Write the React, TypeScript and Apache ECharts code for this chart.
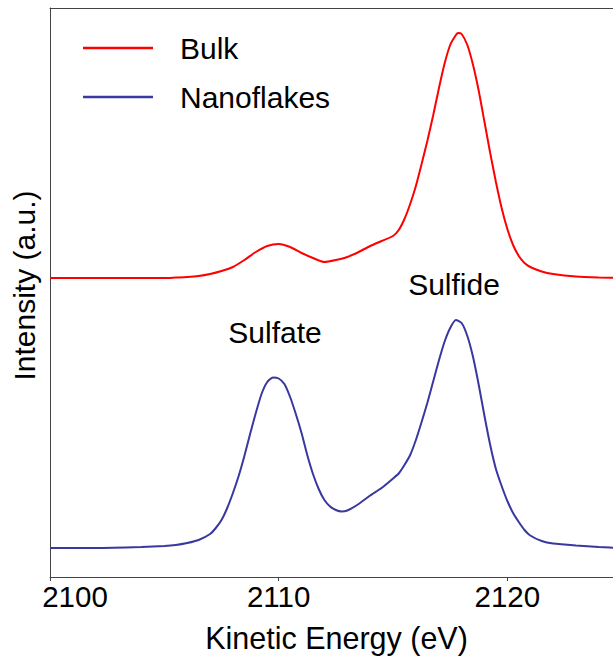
import React, { useEffect, useRef } from "react";
import * as echarts from "echarts";

const bulkEnergy = [
  2100, 2102, 2104, 2105, 2105.5, 2106, 2106.5, 2107, 2107.5, 2108, 2108.5, 2109, 2109.5, 2110,
  2110.5, 2111, 2111.5, 2112, 2112.5, 2113, 2113.5, 2114, 2114.5, 2115, 2115.25, 2115.5, 2115.75,
  2116, 2116.25, 2116.5, 2116.75, 2117, 2117.25, 2117.5, 2117.75, 2117.85, 2118, 2118.25, 2118.5,
  2118.75, 2119, 2119.25, 2119.5, 2119.75, 2120, 2120.25, 2120.5, 2120.75, 2121, 2121.5, 2122,
  2123, 2124, 2125,
];
const bulkIntensity = [
  2.99, 2.99, 2.99, 2.99, 2.995, 3.0, 3.01, 3.03, 3.06, 3.1, 3.17, 3.25, 3.31, 3.33,
  3.3, 3.24, 3.19, 3.15, 3.17, 3.2, 3.25, 3.31, 3.36, 3.41, 3.47, 3.58, 3.73,
  3.91, 4.13, 4.36, 4.61, 4.88, 5.13, 5.32, 5.42, 5.44, 5.43, 5.32, 5.12,
  4.86, 4.55, 4.24, 3.95, 3.69, 3.48, 3.32, 3.21, 3.14, 3.1, 3.055, 3.03,
  3.005, 2.995, 2.99,
];

const nanoEnergy = [
  2100, 2102, 2104, 2105, 2105.5, 2106, 2106.5, 2107, 2107.25, 2107.5, 2107.75, 2108, 2108.25,
  2108.5, 2108.75, 2109, 2109.25, 2109.5, 2109.75, 2110, 2110.25, 2110.5, 2110.75, 2111, 2111.25,
  2111.5, 2111.75, 2112, 2112.25, 2112.5, 2112.75, 2113, 2113.5, 2114, 2114.5, 2115, 2115.25,
  2115.5, 2115.75, 2116, 2116.25, 2116.5, 2116.75, 2117, 2117.25, 2117.5, 2117.75, 2118, 2118.25,
  2118.5, 2118.75, 2119, 2119.25, 2119.5, 2119.75, 2120, 2120.25, 2120.5, 2120.75, 2121, 2121.5,
  2122, 2123, 2124, 2125,
];
const nanoIntensity = [
  0.29, 0.29, 0.3, 0.31, 0.32, 0.34, 0.37, 0.43, 0.49, 0.57, 0.69, 0.84, 1.01,
  1.21, 1.43, 1.64, 1.83, 1.95, 1.995, 1.985, 1.93, 1.8, 1.63, 1.44, 1.22,
  1.03, 0.88, 0.77, 0.705, 0.67, 0.655, 0.665, 0.73, 0.815, 0.89, 0.985, 1.035,
  1.12, 1.22, 1.37, 1.55, 1.74, 1.95, 2.16, 2.35, 2.49, 2.57, 2.54, 2.41,
  2.2, 1.92, 1.61, 1.32, 1.08, 0.91, 0.76, 0.64, 0.55, 0.47, 0.415, 0.36,
  0.335, 0.315, 0.3, 0.29,
];

const seriesNames = ["Bulk", "Nanoflakes"];
const seriesColors = ["#ff0000", "#3838a0"];
const xTicks = [2100, 2110, 2120];
const xMin = 2100;
const xMax = 2124.62;
const annotations = [
  { text: "Sulfate", x: 275, y: 332 },
  { text: "Sulfide", x: 454, y: 284 },
];

const FONT = "'Liberation Sans', Arial, sans-serif";
const FS = 30;

export default function App() {
  const ref = useRef<HTMLDivElement>(null);
  useEffect(() => {
    if (!ref.current) return;
    const chart = echarts.init(ref.current, undefined, { renderer: "svg" });
    const pairs = (xs: number[], ys: number[]) => xs.map((x, i) => [x, ys[i]]);
    chart.setOption({
      animation: false,
      textStyle: { fontFamily: FONT },
      grid: { left: 50, top: 8, right: 0, bottom: 87, show: false },
      legend: {
        orient: "vertical",
        left: 83,
        top: 33,
        padding: 0,
        icon: "rect",
        itemWidth: 70,
        itemHeight: 2.5,
        itemGap: 19,
        data: seriesNames,
        textStyle: { fontSize: FS, color: "#000", fontFamily: FONT, padding: [0, 0, 0, 22] },
      },
      xAxis: [
        {
          type: "value",
          min: xMin,
          max: xMax,
          interval: 10,
          axisLine: { show: true, lineStyle: { color: "#444", width: 1 } },
          axisTick: { show: true, inside: false, length: 4, lineStyle: { color: "#444" } },
          axisLabel: {
            fontSize: 29.5,
            color: "#000",
            margin: 4,
            fontFamily: FONT,
            showMaxLabel: false,
            formatter: (v: number) =>
              v === xMin ? "{first|" + v + "}" : xTicks.includes(v) ? String(v) : "",
            rich: {
              first: { fontSize: 29.5, color: "#000", fontFamily: FONT, padding: [0, 0, 0, 50] },
            },
          },
          splitLine: { show: false },
          name: "Kinetic Energy (eV)",
          nameLocation: "middle",
          nameGap: 45,
          nameTextStyle: { fontSize: 30.5, color: "#000", fontFamily: FONT, padding: [0, 0, 0, 10] },
        },
        {
          type: "value",
          position: "top",
          min: xMin,
          max: xMax,
          interval: 10,
          axisLine: { show: true, lineStyle: { color: "#444", width: 1 } },
          axisTick: { show: false },
          axisLabel: { show: false },
          splitLine: { show: false },
        },
      ],
      yAxis: {
        type: "value",
        min: 0,
        max: 5.69,
        axisLine: { show: true, lineStyle: { color: "#444", width: 1 } },
        axisTick: { show: false },
        axisLabel: { show: false },
        splitLine: { show: false },
        name: "Intensity (a.u.)",
        nameLocation: "middle",
        nameGap: 11,
        nameTextStyle: { fontSize: FS, color: "#000", fontFamily: FONT, padding: [0, 0, 0, 14] },
      },
      series: [
        {
          name: seriesNames[0],
          type: "line",
          data: pairs(bulkEnergy, bulkIntensity),
          symbol: "none",
          showSymbol: false,
          smooth: 0.2,
          lineStyle: { color: seriesColors[0], width: 2 },
          itemStyle: { color: seriesColors[0] },
        },
        {
          name: seriesNames[1],
          type: "line",
          data: pairs(nanoEnergy, nanoIntensity),
          symbol: "none",
          showSymbol: false,
          smooth: 0.2,
          lineStyle: { color: seriesColors[1], width: 2 },
          itemStyle: { color: seriesColors[1] },
        },
      ],
      graphic: annotations.map((a) => ({
        type: "text",
        x: a.x,
        y: a.y,
        style: {
          text: a.text,
          fontSize: FS,
          fontFamily: FONT,
          fill: "#000",
          align: "center",
          verticalAlign: "middle",
          textAlign: "center",
          textVerticalAlign: "middle",
        },
      })),
    });
    return () => chart.dispose();
  }, []);
  return (
    <div
      ref={ref}
      style={{ position: "absolute", left: 0, top: 0, width: 613, height: 664, background: "#fff" }}
    />
  );
}
